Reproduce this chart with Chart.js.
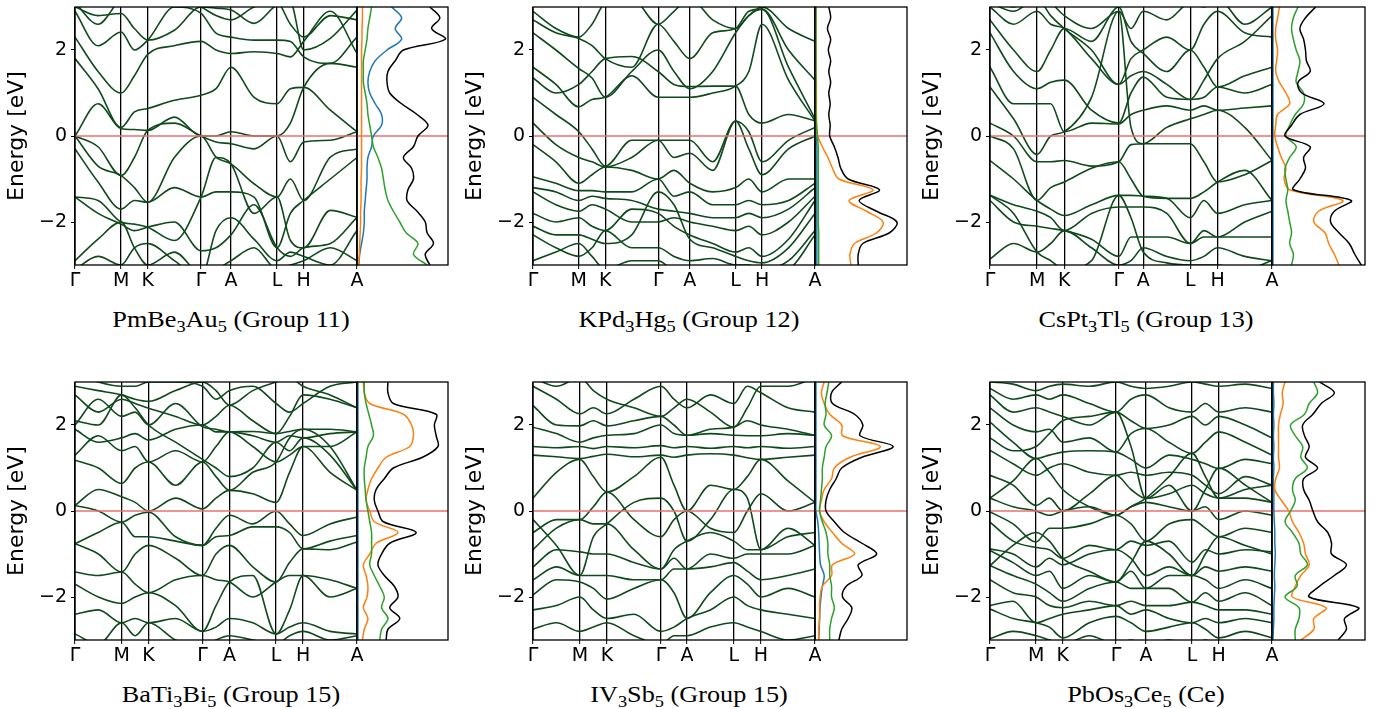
<!DOCTYPE html>
<html><head><meta charset="utf-8">
<script src="https://cdn.jsdelivr.net/npm/chart.js@4.4.1/dist/chart.umd.min.js"></script>
<style>
html,body{margin:0;padding:0;background:#fff}
body{width:1375px;height:709px;position:relative;overflow:hidden}
canvas{position:absolute}
.ttl{position:absolute;font-family:"Liberation Serif","Times New Roman",serif;font-size:23px;line-height:24px;white-space:nowrap;color:#000;transform:translateX(-50%) scaleX(1.14);transform-origin:center}
.ttl sub{font-size:70%;vertical-align:-0.28em;line-height:0}
</style></head><body>
<script>
// ---------- labels ----------
const kLabels = ['Γ','M','K','Γ','A','L','H','A'];
const yTicks = [-2, 0, 2];
const titles = [
  'PmBe<sub>3</sub>Au<sub>5</sub> (Group 11)',
  'KPd<sub>3</sub>Hg<sub>5</sub> (Group 12)',
  'CsPt<sub>3</sub>Tl<sub>5</sub> (Group 13)',
  'BaTi<sub>3</sub>Bi<sub>5</sub> (Group 15)',
  'IV<sub>3</sub>Sb<sub>5</sub> (Group 15)',
  'PbOs<sub>3</sub>Ce<sub>5</sub> (Ce)'
];
// ---------- k-path (high-symmetry positions) ----------
const kTicks1 = [0, 0.577, 0.910, 1.577, 1.952, 2.529, 2.862, 3.529];
const kTicks2 = [0, 0.577, 0.910, 1.577, 1.975, 2.552, 2.885, 3.552];
const kTicks3 = [0, 0.577, 0.910, 1.577, 1.877, 2.454, 2.787, 3.454];
const kTicks4 = [0, 0.577, 0.910, 1.577, 1.910, 2.487, 2.820, 3.487];
const kTicks5 = [0, 0.577, 0.910, 1.577, 1.897, 2.474, 2.807, 3.474];
const kTicks6 = [0, 0.577, 0.910, 1.577, 1.952, 2.529, 2.862, 3.529];
// band energies (eV) at: Γ, ½, M, ½, K, ½, Γ, ½, A, ½, L, ½, H, ½, A
const bands1 = [
 [3.0, 2.8, 2.85, 2.5, 2.23, 2.46, 3.0, 2.97, 2.93, 2.62, 3.05, 3.1, 2.0, 2.27, 2.93],
 [2.9, 2.1, 2.42, 2.0, 2.23, 3.0, 2.85, 2.39, 2.3, 2.23, 2.23, 2.2, 1.84, 1.69, 2.3],
 [2.3, 1.5, 1.0, 1.4, 1.9, 2.1, 2.2, 2.0, 1.92, 1.96, 1.92, 1.84, 2.2, 2.9, 1.92],
 [1.8, 1.1, 0.2, 0.56, 0.64, 0.83, 0.95, 1.1, 1.6, 0.9, 0.75, 1.1, 1.13, 0.6, 0.1],
 [0.0, 0.75, 0.17, 0.15, 0.13, 0.44, 0.0, 0.0, 0.1, 0.0, 0.0, 0.3, 1.13, 1.69, 1.6],
 [0.0, -0.25, -0.92, -0.5, 0.13, 0.3, 0.0, -0.14, -0.18, -0.3, 0.0, -0.6, -0.14, -0.1, 0.1],
 [0.0, -0.7, -0.92, -1.2, -1.54, -0.5, 0.0, -0.49, -0.65, -1.11, -1.42, -1.0, -1.5, -0.49, -0.3],
 [-0.3, -1.07, -1.7, -1.5, -1.54, -1.2, -1.42, -1.3, -1.3, -1.42, -2.6, -1.8, -1.5, -1.0, -0.5],
 [-1.42, -1.5, -2.0, -2.05, -2.12, -2.43, -1.42, -0.5, -0.65, -1.8, -1.42, -2.43, -2.6, -1.73, -1.89],
 [-1.42, -1.8, -2.05, -2.2, -2.12, -2.0, -2.67, -2.6, -2.3, -1.6, -2.6, -2.8, -2.6, -2.5, -1.89],
 [-2.9, -2.4, -2.0, -2.6, -3.0, -2.7, -3.2, -3.1, -2.9, -2.6, -3.1, -3.0, -2.9, -2.6, -2.9],
 [3.1, 2.6, 3.2, 3.3, 3.3, 3.2, 3.0, 2.8, 2.7, 3.0, 3.1, 2.6, 2.3, 2.8, 2.7],
 [-3.1, -2.8, -3.0, -2.6, -2.5, -2.9, -3.3, -2.2, -1.9, -2.4, -2.9, -2.7, -2.8, -3.0, -2.2]
];
const bands2 = [
 [2.9, 2.5, 2.3, 2.6, 3.1, 3.2, 2.6, 2.9, 3.2, 2.7, 2.5, 2.8, 3.0, 2.5, 2.2],
 [2.7, 2.4, 2.27, 2.1, 1.8, 1.6, 2.6, 2.2, 1.8, 2.4, 2.5, 2.9, 2.95, 2.0, 1.3],
 [2.4, 2.0, 1.57, 1.35, 0.9, 1.5, 2.0, 1.5, 1.1, 1.5, 2.4, 2.8, 2.95, 1.6, 0.4],
 [1.6, 1.2, 0.68, 0.85, 0.9, 1.4, 0.9, 0.9, 0.9, 1.0, 1.16, 1.5, 2.6, 1.3, 0.35],
 [1.35, 1.0, 1.2, 1.5, 1.8, 1.85, 1.5, 1.2, 1.15, 1.16, 1.16, 0.5, 0.3, 0.5, 0.35],
 [0.9, 0.5, 0.1, -0.3, -0.7, -0.1, -0.1, -0.1, -0.1, -0.6, 0.35, 0.1, -0.6, -0.1, 0.2],
 [0.3, -0.2, -0.5, -0.6, -0.72, -0.5, -0.1, -0.5, -0.4, -0.8, 0.35, -0.3, -0.9, -0.3, 0.0],
 [-0.2, -0.6, -1.1, -0.9, -0.72, -0.8, -1.0, -0.8, -1.1, -1.3, -1.2, -1.0, -1.3, -1.0, -1.0],
 [-0.95, -1.1, -1.27, -1.27, -1.3, -1.3, -1.0, -1.4, -1.3, -1.6, -1.6, -1.5, -1.6, -1.5, -1.1],
 [-1.2, -1.3, -1.5, -1.4, -1.45, -1.5, -1.7, -1.75, -1.8, -1.9, -1.9, -1.8, -1.9, -1.7, -1.2],
 [-1.3, -1.6, -1.75, -1.6, -1.7, -2.0, -2.0, -1.9, -2.0, -2.1, -2.2, -2.1, -2.3, -2.0, -1.4],
 [-1.8, -2.0, -1.9, -2.1, -2.2, -1.7, -1.8, -2.1, -2.3, -2.5, -2.7, -2.6, -2.8, -2.4, -1.5],
 [-2.1, -2.3, -2.3, -2.4, -2.5, -2.3, -1.3, -1.6, -2.4, -2.6, -2.8, -2.9, -2.95, -2.6, -1.8],
 [-2.3, -2.6, -2.8, -2.6, -2.2, -2.6, -2.6, -2.8, -2.9, -2.85, -3.0, -3.0, -3.1, -2.9, -2.2],
 [-2.9, -2.7, -2.5, -2.8, -3.1, -2.9, -2.9, -3.1, -3.1, -3.1, -3.1, -3.1, -3.2, -3.1, -2.3]
];
const bands3 = [
 [3.0, 2.6, 2.9, 2.6, 2.5, 1.8, 1.2, 1.8, 2.0, 2.3, 2.0, 2.6, 2.9, 2.4, 2.3],
 [2.7, 2.0, 1.5, 2.0, 2.5, 2.2, 3.0, 2.2, 1.92, 1.5, 2.0, 1.6, 1.14, 1.4, 1.6],
 [2.4, 1.5, 1.1, 1.25, 1.3, 0.6, 0.3, 1.0, 1.37, 0.9, 0.85, 0.9, 1.14, 1.0, 1.2],
 [1.6, 0.75, 0.75, 0.75, 0.1, 0.3, 0.28, 0.5, 0.6, 0.7, 0.6, 0.7, 0.6, 0.65, 0.7],
 [1.14, 0.4, -0.43, 0.0, 0.1, 0.9, 2.9, 0.2, -0.18, -0.18, -0.18, -0.6, -1.07, -0.9, -0.57],
 [0.3, 0.0, -0.6, -0.6, -0.57, -0.7, -0.6, -0.2, -0.18, 0.2, 0.4, 0.5, 0.6, 0.2, -0.57],
 [0.0, -0.3, -1.5, -1.2, -1.07, -0.75, -0.6, -1.0, -1.4, -1.45, -1.45, -1.3, -1.07, -0.8, -1.5],
 [-0.57, -1.0, -1.5, -1.7, -1.85, -1.6, -1.38, -1.38, -1.4, -1.45, -1.9, -1.5, -1.8, -1.6, -1.5],
 [-1.38, -1.6, -1.75, -1.9, -2.2, -1.8, -1.65, -1.65, -1.65, -1.8, -2.5, -2.2, -2.35, -2.0, -1.75],
 [-1.5, -2.0, -2.1, -2.15, -2.2, -2.4, -2.8, -2.35, -2.35, -2.35, -2.5, -2.35, -2.35, -2.35, -2.35],
 [-2.86, -2.5, -2.7, -2.5, -2.2, -2.6, -3.0, -2.9, -2.6, -2.8, -2.9, -2.8, -2.6, -2.8, -2.9],
 [3.1, 2.9, 3.2, 2.8, 2.5, 2.0, 1.2, 1.4, 1.5, 1.2, 0.85, 1.3, 1.8, 2.2, 2.8],
 [-1.38, -1.8, -2.7, -2.9, -3.1, -2.9, -1.38, -1.9, -2.7, -2.95, -3.0, -3.0, -3.0, -3.1, -2.9],
 [3.2, 3.0, 3.3, 3.1, 2.8, 2.5, 2.9, 2.5, 2.9, 2.7, 3.1, 3.0, 3.2, 2.6, 3.0]
];
const bands4 = [
 [2.9, 2.8, 2.7, 2.6, 2.55, 2.8, 3.0, 2.8, 2.46, 2.8, 3.0, 3.1, 2.9, 2.7, 2.4],
 [2.7, 2.3, 2.6, 2.5, 2.39, 2.2, 2.0, 2.2, 2.46, 2.1, 1.8, 2.2, 2.7, 2.6, 2.4],
 [2.0, 2.6, 2.2, 2.3, 2.0, 2.5, 1.96, 1.9, 1.84, 1.85, 1.8, 1.85, 1.9, 1.9, 1.84],
 [1.9, 1.6, 1.7, 1.8, 1.65, 1.9, 2.0, 1.84, 1.84, 1.75, 1.6, 1.75, 1.7, 1.8, 1.84],
 [1.3, 1.75, 1.4, 1.5, 1.14, 1.4, 1.14, 1.5, 1.84, 1.5, 1.14, 1.3, 1.5, 1.5, 1.84],
 [1.18, 1.0, 0.64, 1.0, 1.14, 0.6, 1.14, 0.8, 0.48, 0.9, 1.14, 1.7, 1.9, 1.5, 0.48],
 [0.13, 0.5, 0.33, 0.2, 0.0, 0.3, 0.05, 0.3, 0.48, 0.4, 0.2, 0.9, 1.5, 0.9, 0.48],
 [0.13, 0.0, -0.26, -0.1, -0.03, -0.6, -0.8, -0.4, -0.1, -0.3, 0.0, -0.3, -0.57, -0.3, -0.14],
 [-0.76, -0.5, -0.26, -0.6, -0.6, -0.7, -0.8, -0.6, -0.57, -0.37, -0.37, -0.5, -0.88, -0.7, -0.57],
 [-0.76, -1.0, -1.42, -1.0, -0.8, -1.1, -1.5, -1.0, -0.8, -1.3, -1.65, -1.2, -0.88, -0.9, -0.72],
 [-1.42, -1.5, -1.42, -1.7, -1.9, -1.6, -1.5, -1.6, -1.65, -2.0, -1.65, -1.5, -1.5, -1.6, -1.8],
 [-1.7, -2.0, -2.15, -2.0, -1.9, -2.2, -2.8, -2.2, -1.65, -1.5, -2.86, -2.3, -1.5, -2.0, -1.8],
 [-2.4, -2.3, -2.6, -2.5, -2.6, -2.5, -2.8, -2.7, -2.5, -2.6, -2.86, -2.7, -2.6, -2.8, -2.86],
 [-2.86, -3.1, -2.6, -2.9, -2.6, -3.0, -3.2, -3.0, -2.9, -3.0, -3.1, -2.9, -2.8, -3.0, -2.9],
 [2.1, 2.0, 2.7, 2.4, 2.0, 1.6, 1.2, 1.0, 0.8, 1.0, 1.6, 1.4, 1.7, 1.3, 0.48],
 [3.2, 3.0, 2.9, 2.9, 3.0, 3.0, 2.9, 2.6, 2.8, 2.9, 2.5, 2.3, 2.5, 2.9, 3.0]
];
const bands5 = [
 [2.9, 2.6, 2.26, 2.4, 2.26, 2.6, 2.9, 2.6, 2.4, 2.7, 2.5, 2.9, 2.75, 2.4, 2.3],
 [2.45, 2.0, 1.98, 2.1, 1.98, 2.1, 2.2, 2.0, 1.76, 1.9, 1.95, 2.1, 2.0, 1.9, 1.76],
 [1.95, 1.8, 1.6, 1.7, 1.76, 1.8, 2.0, 1.8, 1.76, 1.8, 1.76, 1.75, 1.75, 1.8, 1.76],
 [1.5, 1.47, 1.5, 1.45, 1.5, 1.47, 1.52, 1.47, 1.5, 1.46, 1.5, 1.47, 1.5, 1.46, 1.5],
 [1.3, 1.26, 1.22, 1.27, 1.32, 1.26, 1.3, 1.25, 1.3, 1.33, 1.3, 1.24, 1.2, 1.25, 1.3],
 [0.3, 0.9, 1.2, 0.8, 0.44, 0.8, 1.25, 0.6, 0.0, 0.6, 0.5, 0.8, 1.2, 0.7, 0.2],
 [-0.5, -0.2, -0.2, 0.1, 0.44, -0.2, -0.6, -0.2, 0.0, -0.4, -0.5, 0.0, 0.4, 0.0, 0.2],
 [-0.9, -0.4, -0.2, -0.3, -0.3, -0.9, -1.35, -0.9, -0.7, -0.5, -0.7, -0.9, -0.9, -0.6, -0.5],
 [-1.3, -0.9, -0.95, -1.0, -1.0, -1.2, -1.35, -1.1, -1.35, -1.0, -1.1, -1.0, -1.0, -1.0, -0.8],
 [-1.6, -1.3, -1.5, -1.5, -1.5, -1.6, -1.6, -1.35, -1.35, -1.3, -1.2, -1.4, -1.6, -1.5, -1.35],
 [-1.95, -1.6, -1.65, -1.8, -2.05, -1.8, -1.6, -1.9, -2.5, -1.9, -1.5, -1.7, -2.0, -1.8, -2.0],
 [-2.3, -2.2, -2.0, -2.3, -2.5, -2.4, -2.8, -2.7, -2.5, -2.3, -2.0, -2.2, -2.3, -2.4, -2.5],
 [-2.75, -2.6, -2.8, -2.7, -2.6, -2.9, -3.1, -2.9, -2.9, -2.7, -2.6, -2.7, -2.8, -3.0, -2.9],
 [3.1, 2.9, 3.1, 2.8, 2.6, 2.4, 2.2, 2.4, 2.6, 2.3, 1.95, 2.4, 2.9, 2.9, 3.1],
 [-0.2, -0.8, -1.5, -0.6, -0.3, 0.2, 0.3, 0.0, -0.7, -0.2, 0.5, 0.3, -0.9, -0.4, -0.8]
];
const bands6 = [
 [3.0, 2.95, 2.8, 2.9, 2.95, 2.9, 3.0, 2.9, 2.85, 2.9, 3.0, 2.95, 2.9, 2.95, 2.85],
 [2.85, 2.6, 2.7, 2.6, 2.7, 2.5, 2.3, 2.6, 2.7, 2.4, 2.3, 2.5, 2.3, 2.4, 2.3],
 [2.7, 2.3, 2.4, 2.3, 2.2, 2.0, 2.3, 2.1, 1.92, 2.0, 2.2, 2.0, 2.2, 2.0, 1.7],
 [2.4, 2.0, 1.84, 1.9, 1.6, 1.7, 1.37, 1.8, 1.92, 1.6, 1.34, 1.6, 1.84, 1.6, 1.3],
 [2.07, 1.6, 1.22, 1.3, 1.37, 1.4, 1.37, 1.2, 1.0, 1.3, 1.2, 1.1, 0.99, 1.2, 1.1],
 [1.41, 1.1, 0.83, 1.0, 1.1, 0.9, 0.83, 0.9, 0.83, 0.9, 0.83, 0.6, 0.4, 0.8, 0.6],
 [0.83, 0.6, 0.13, 0.3, 0.0, 0.4, 0.83, 0.5, 0.29, 0.4, 0.6, 0.4, 0.3, 0.3, 0.2],
 [0.3, 0.1, 0.0, -0.1, 0.0, 0.1, -0.1, 0.1, 0.2, 0.1, 0.0, 0.1, -0.2, 0.0, -0.1],
 [-0.02, -0.3, -0.72, -0.4, -0.4, -0.3, -0.1, -0.3, -0.7, -0.3, -0.2, -0.4, -0.6, -0.4, -0.5],
 [-0.26, -0.7, -0.85, -0.9, -1.1, -0.8, -0.9, -0.7, -0.8, -0.7, -1.19, -0.9, -1.0, -0.9, -0.95],
 [-0.88, -1.0, -1.3, -1.1, -1.25, -1.0, -0.9, -1.1, -1.5, -1.3, -1.5, -1.3, -1.4, -1.3, -1.4],
 [-0.92, -1.2, -1.5, -1.4, -1.8, -1.5, -1.65, -1.4, -1.8, -1.5, -1.5, -1.6, -1.8, -1.6, -1.8],
 [-1.27, -1.5, -1.7, -1.9, -2.1, -1.8, -1.65, -1.8, -1.8, -1.8, -2.12, -1.9, -2.1, -1.9, -2.2],
 [-1.6, -1.9, -2.0, -2.2, -2.25, -2.1, -2.2, -2.1, -2.2, -2.2, -2.12, -2.2, -2.3, -2.3, -2.4],
 [-2.2, -2.1, -2.6, -2.5, -2.4, -2.3, -2.2, -2.4, -2.3, -2.5, -2.6, -2.5, -2.6, -2.5, -2.6],
 [-2.28, -2.5, -2.6, -2.7, -2.95, -2.6, -2.45, -2.6, -2.8, -2.7, -2.6, -2.75, -2.95, -2.8, -2.95],
 [-2.97, -2.8, -2.9, -3.0, -3.1, -2.9, -3.1, -3.0, -3.1, -3.0, -3.1, -3.0, -3.1, -3.0, -3.1],
 [1.7, 1.4, 1.5, 1.8, 2.1, 2.2, 2.3, 1.5, 0.29, 0.6, 0.0, 0.5, 1.0, 0.6, 0.2],
 [-1.27, -0.8, -0.5, -0.7, -1.1, -1.4, -1.65, -1.2, -0.7, -1.0, -1.5, -1.0, -0.6, -0.8, -1.0],
 [0.3, 0.7, 1.22, 0.9, 0.5, 0.1, -0.1, 0.1, 0.3, 0.8, 1.34, 0.8, 0.3, 0.5, 0.6]
];
// ---------- DOS (arbitrary units) on energy grid ----------
const dosEnergy = [3, 2.75, 2.5, 2.25, 2, 1.75, 1.5, 1.25, 1, 0.75, 0.5, 0.25, 0, -0.25, -0.5, -0.75, -1, -1.25, -1.5, -1.75, -2, -2.25, -2.5, -2.75, -3];
const dosTotal1  = [8.0, 9.1, 8.2, 9.7, 5.1, 4.2, 3.4, 3.3, 3.6, 4.9, 6.6, 7.8, 6.7, 6.2, 5.1, 6.0, 6.2, 5.6, 5.5, 6.6, 7.5, 7.7, 8.4, 7.5, 8.0];
const dosBlue1   = [3.8, 4.9, 4.2, 4.9, 3.3, 2.0, 1.4, 1.2, 1.4, 2.0, 2.7, 2.7, 1.8, 1.6, 1.2, 1.1, 1.1, 1.0, 0.9, 0.8, 0.8, 0.7, 0.5, 0.3, 0.2];
const dosOrange1 = [0.6, 0.6, 0.55, 0.55, 0.5, 0.5, 0.5, 0.5, 0.5, 0.5, 0.5, 0.5, 0.5, 0.5, 0.5, 0.5, 0.45, 0.45, 0.45, 0.4, 0.4, 0.35, 0.3, 0.25, 0.15];
const dosGreen1  = [1.6, 1.4, 1.2, 1.1, 0.9, 0.7, 0.7, 0.7, 0.9, 1.1, 1.2, 1.4, 1.6, 1.8, 2.3, 2.7, 2.9, 3.1, 3.4, 4.0, 4.7, 5.4, 6.7, 6.2, 7.7];
const dosTotal2  = [1.5, 1.7, 1.35, 1.7, 1.45, 1.7, 1.5, 1.7, 1.5, 1.65, 1.5, 1.65, 1.6, 2.1, 2.5, 2.8, 3.6, 7.0, 4.8, 6.7, 8.9, 8.1, 5.2, 4.7, 4.7];
const dosBlue2   = [0.05, 0.05, 0.05, 0.05, 0.05, 0.05, 0.05, 0.05, 0.05, 0.05, 0.05, 0.05, 0.1, 0.2, 0.2, 0.2, 0.2, 0.2, 0.2, 0.2, 0.2, 0.2, 0.2, 0.2, 0.2];
const dosOrange2 = [0.1, 0.1, 0.1, 0.1, 0.1, 0.1, 0.1, 0.15, 0.15, 0.15, 0.15, 0.2, 0.3, 0.8, 1.4, 1.9, 2.6, 6.3, 3.7, 5.6, 7.4, 6.7, 4.3, 3.8, 3.9];
const dosGreen2  = [0.1, 0.1, 0.1, 0.1, 0.1, 0.1, 0.1, 0.1, 0.1, 0.1, 0.1, 0.15, 0.25, 0.35, 0.35, 0.35, 0.35, 0.35, 0.35, 0.35, 0.35, 0.4, 0.4, 0.4, 0.4];
const dosTotal3  = [4.7, 3.6, 3.0, 3.4, 3.6, 3.7, 4.1, 2.8, 3.2, 5.6, 3.0, 2.1, 1.4, 4.1, 3.4, 3.6, 3.0, 2.3, 8.5, 6.7, 6.3, 7.2, 8.3, 8.9, 9.6];
const dosBlue3   = [0.1, 0.1, 0.1, 0.1, 0.1, 0.1, 0.1, 0.1, 0.1, 0.1, 0.1, 0.1, 0.1, 0.1, 0.1, 0.1, 0.1, 0.1, 0.1, 0.1, 0.1, 0.1, 0.1, 0.1, 0.1];
const dosOrange3 = [0.8, 0.6, 0.4, 0.4, 0.6, 0.5, 0.4, 0.8, 1.5, 1.9, 0.6, 0.4, 0.3, 0.6, 1.0, 1.5, 1.3, 1.9, 7.6, 5.0, 4.5, 5.7, 6.1, 6.7, 7.2];
const dosGreen3  = [2.8, 2.3, 2.1, 2.3, 2.6, 3.0, 2.8, 2.6, 3.4, 3.4, 2.5, 1.9, 1.5, 2.6, 1.9, 1.4, 1.5, 1.7, 1.5, 1.7, 1.9, 2.1, 1.9, 2.3, 2.1];
const dosTotal4  = [3.4, 3.4, 4.0, 8.7, 8.5, 8.7, 8.9, 7.2, 4.0, 3.0, 2.1, 1.9, 2.3, 2.9, 6.5, 3.6, 2.7, 2.3, 3.0, 4.1, 4.5, 3.6, 4.7, 3.4, 3.2];
const dosBlue4   = [0.1, 0.1, 0.1, 0.1, 0.1, 0.1, 0.1, 0.1, 0.1, 0.1, 0.1, 0.1, 0.1, 0.1, 0.1, 0.1, 0.1, 0.1, 0.1, 0.1, 0.1, 0.1, 0.1, 0.1, 0.1];
const dosOrange4 = [0.7, 0.8, 1.4, 5.1, 6.0, 6.2, 5.8, 3.2, 2.3, 1.6, 1.2, 1.0, 1.4, 1.9, 4.5, 2.1, 1.4, 0.7, 1.0, 1.2, 1.1, 0.7, 1.2, 0.8, 0.6];
const dosGreen4  = [0.8, 0.8, 1.0, 1.3, 1.6, 1.8, 1.2, 1.0, 0.8, 0.8, 0.9, 1.0, 1.2, 1.4, 1.6, 1.6, 1.6, 1.4, 1.9, 2.5, 3.0, 2.7, 3.4, 2.7, 2.5];
const dosTotal5  = [2.9, 1.8, 1.9, 4.3, 5.2, 4.9, 8.5, 5.1, 2.9, 2.3, 1.6, 1.2, 1.2, 2.1, 3.2, 5.1, 6.7, 4.7, 5.1, 3.4, 3.0, 4.0, 3.6, 2.9, 2.6];
const dosBlue5   = [0.1, 0.1, 0.1, 0.1, 0.1, 0.1, 0.1, 0.1, 0.1, 0.1, 0.1, 0.1, 0.1, 0.3, 0.4, 0.45, 0.5, 0.6, 1.0, 0.8, 0.65, 0.55, 0.5, 0.45, 0.4];
const dosOrange5 = [1.0, 0.7, 1.0, 1.6, 2.9, 3.0, 7.1, 3.8, 2.1, 1.8, 1.0, 0.7, 0.5, 1.0, 1.9, 2.9, 4.3, 1.9, 1.8, 0.8, 0.55, 0.5, 0.5, 0.4, 0.4];
const dosGreen5  = [1.5, 1.3, 1.1, 1.2, 1.0, 1.8, 1.2, 1.0, 0.8, 0.8, 0.7, 0.6, 0.5, 0.8, 1.2, 1.4, 1.4, 1.6, 1.6, 1.8, 1.8, 2.1, 1.8, 1.6, 1.6];
const dosTotal6  = [5.1, 6.7, 5.3, 4.4, 3.3, 3.5, 4.0, 3.6, 4.9, 3.4, 3.4, 4.0, 4.4, 4.9, 6.0, 6.4, 6.4, 8.0, 6.7, 5.1, 4.0, 9.3, 7.8, 8.0, 7.1];
const dosBlue6   = [0.15, 0.15, 0.2, 0.15, 0.2, 0.15, 0.2, 0.15, 0.2, 0.15, 0.2, 0.2, 0.2, 0.25, 0.3, 0.3, 0.35, 0.3, 0.25, 0.3, 0.25, 0.2, 0.2, 0.15, 0.1];
const dosOrange6 = [1.4, 1.1, 1.2, 0.9, 0.7, 0.7, 0.7, 0.7, 0.8, 0.4, 0.3, 1.0, 1.8, 2.2, 2.9, 3.4, 3.6, 4.0, 3.1, 2.5, 2.2, 5.8, 4.5, 4.5, 3.1];
const dosGreen6  = [4.5, 4.9, 4.0, 3.5, 2.0, 2.5, 3.3, 3.1, 3.8, 2.5, 2.2, 2.5, 2.0, 1.4, 2.2, 2.9, 3.1, 3.8, 2.5, 2.7, 1.4, 2.9, 2.9, 2.5, 2.5];

// ---------- assemble ----------
const panels = [
  {k:kTicks1, bands:bands1, tot:dosTotal1, b:dosBlue1, o:dosOrange1, g:dosGreen1},
  {k:kTicks2, bands:bands2, tot:dosTotal2, b:dosBlue2, o:dosOrange2, g:dosGreen2},
  {k:kTicks3, bands:bands3, tot:dosTotal3, b:dosBlue3, o:dosOrange3, g:dosGreen3},
  {k:kTicks4, bands:bands4, tot:dosTotal4, b:dosBlue4, o:dosOrange4, g:dosGreen4},
  {k:kTicks5, bands:bands5, tot:dosTotal5, b:dosBlue5, o:dosOrange5, g:dosGreen5},
  {k:kTicks6, bands:bands6, tot:dosTotal6, b:dosBlue6, o:dosOrange6, g:dosGreen6}
];
const BAND = '#0f4a1c';
const FERMI = 'rgb(232,112,112)';
const colLeft = [75, 533, 990];
const dosW = [91, 92, 93];
const rowTop = [0, 375];
const BW = 282, CH = 300, PT = 7, PB = 265, RPAD = 20;

const frame = {
  id:'frame',
  afterDraw(chart){
    const a = chart.chartArea, c = chart.ctx;
    c.save(); c.strokeStyle='#000'; c.lineWidth=1.3;
    c.strokeRect(a.left, a.top, a.right-a.left, a.bottom-a.top);
    c.restore();
  }
};

function mkCanvas(left, top, w, h){
  const cv = document.createElement('canvas');
  cv.width = w; cv.height = h;
  cv.style.left = left+'px'; cv.style.top = top+'px';
  cv.style.width = w+'px'; cv.style.height = h+'px';
  document.body.appendChild(cv);
  return cv.getContext('2d');
}
function samples(kt){
  const s = [];
  for (let i=0;i<kt.length-1;i++){ s.push(kt[i]); s.push((kt[i]+kt[i+1])/2); }
  s.push(kt[kt.length-1]);
  return s;
}

panels.forEach((p, idx) => {
  const c = idx % 3, r = Math.floor(idx/3);
  const L = colLeft[c], T = rowTop[r];
  const ks = samples(p.k);
  const kmax = p.k[p.k.length-1];
  // band structure chart
  const ctx = mkCanvas(L-75, T, 75+BW+RPAD, CH);
  const ds = [{data:[{x:0,y:0},{x:kmax,y:0}], borderColor:FERMI, borderWidth:1.3, pointRadius:0, clip:0}];
  p.bands.forEach(b => ds.push({
    data: b.map((e,j)=>({x:ks[j], y:e})),
    borderColor:BAND, borderWidth:1.6, pointRadius:0,
    cubicInterpolationMode:'monotone', clip:0
  }));
  new Chart(ctx, {
    type:'line',
    data:{datasets:ds},
    options:{
      responsive:false, animation:false, devicePixelRatio:1,
      layout:{padding:{top:PT, right:RPAD, left:0, bottom:0}},
      plugins:{legend:{display:false}, tooltip:{enabled:false}},
      elements:{line:{borderCapStyle:'round', borderJoinStyle:'round'}},
      scales:{
        x:{type:'linear', min:0, max:kmax, z:1,
           afterBuildTicks:s=>{ s.ticks = p.k.map(v=>({value:v})); },
           afterFit:s=>{ s.height = CH-PB; s.paddingLeft = 0; s.paddingRight = 0; },
           ticks:{autoSkip:false, maxRotation:0, padding:1, color:'#000',
                  font:{family:'DejaVu Sans', size:19},
                  callback:(v,i)=>kLabels[i]},
           grid:{color:'#000', lineWidth:1.3, drawTicks:true, tickLength:4, tickColor:'#000', tickWidth:1},
           border:{display:false}},
        y:{type:'linear', min:-3, max:3,
           afterBuildTicks:s=>{ s.ticks = yTicks.map(v=>({value:v})); },
           afterFit:s=>{ s.width = 75; s.paddingTop = 0; s.paddingBottom = 0; },
           ticks:{padding:4, color:'#000', font:{family:'DejaVu Sans', size:19},
                  callback:v=> v<0 ? '\u2212'+Math.abs(v) : String(v)},
           grid:{display:true, drawOnChartArea:false, drawTicks:true, tickLength:4, color:'#000', tickColor:'#000'},
           border:{display:false},
           title:{display:true, text:'Energy [eV]', color:'#000',
                  font:{family:'DejaVu Sans', size:22}, padding:{top:4, bottom:0}}}
      }
    },
    plugins:[frame]
  });
  // DOS chart
  const W = dosW[c];
  const ctx2 = mkCanvas(L+BW-2, T, W+4, CH-PB+PB-0);
  const pts = arr => arr.map((v,j)=>({x:v, y:dosEnergy[j]}));
  const line = (arr, col) => ({data:pts(arr), borderColor:col, borderWidth:1.5, pointRadius:0, showLine:true, tension:0.35, clip:0});
  new Chart(ctx2, {
    type:'scatter',
    data:{datasets:[
      line(p.tot, '#000000'),
      line(p.g, '#2ca02c'),
      line(p.o, '#ff7f0e'),
      line(p.b, '#1f77b4'),
      {data:[{x:0,y:0},{x:10,y:0}], borderColor:FERMI, borderWidth:1.3, pointRadius:0, showLine:true, clip:0}
    ]},
    options:{
      responsive:false, animation:false, devicePixelRatio:1,
      layout:{padding:{top:PT, right:2, left:2, bottom:CH-PB}},
      plugins:{legend:{display:false}, tooltip:{enabled:false}},
      scales:{
        x:{type:'linear', min:0, max:10, display:false},
        y:{type:'linear', min:-3, max:3, display:false}
      }
    },
    plugins:[frame]
  });
  // title
  const d = document.createElement('div');
  d.className = 'ttl';
  d.innerHTML = titles[idx];
  d.style.left = (L + BW/2 + 15) + 'px';
  d.style.top = (T + 308) + 'px';
  document.body.appendChild(d);
});
</script>
</body></html>
